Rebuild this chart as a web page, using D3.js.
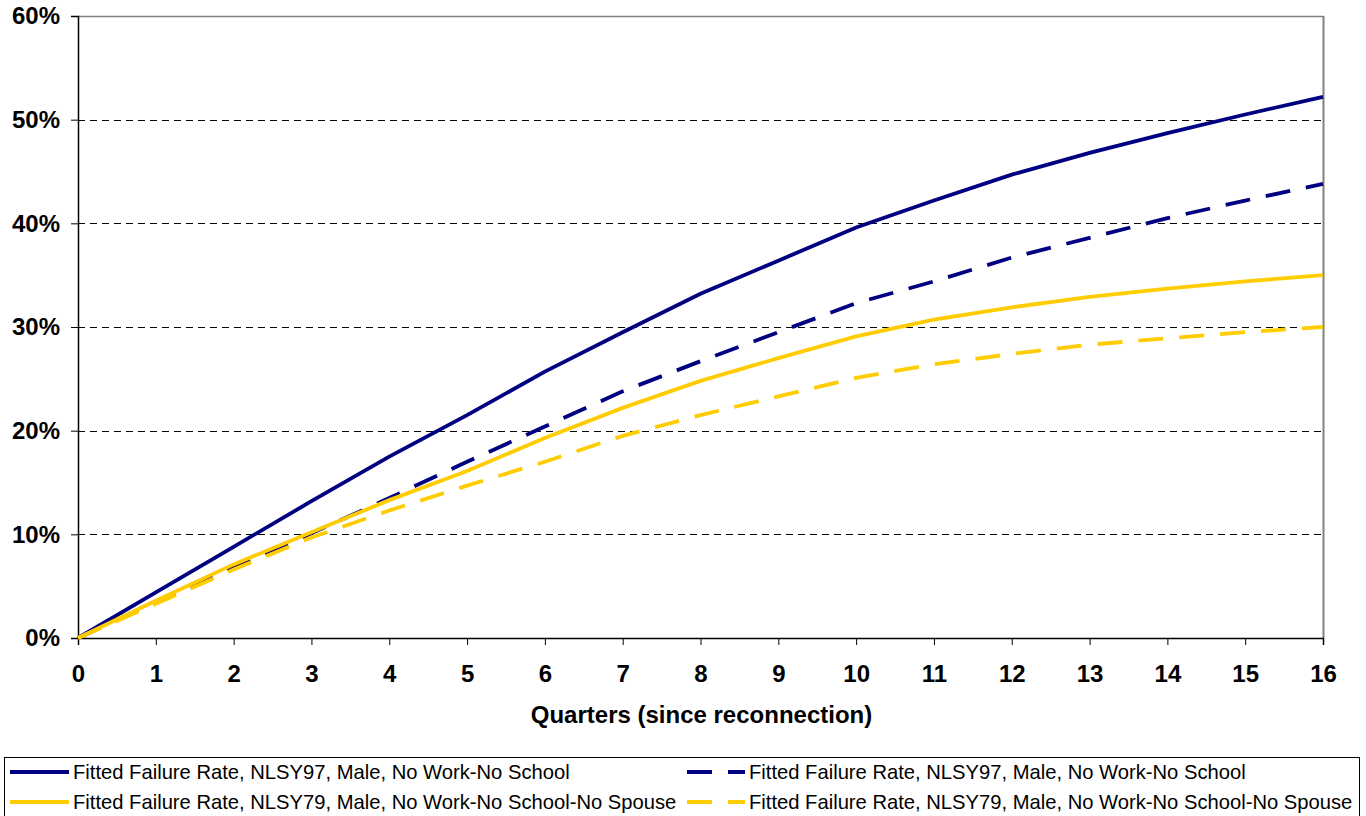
<!DOCTYPE html>
<html>
<head>
<meta charset="utf-8">
<script src="https://cdn.jsdelivr.net/npm/d3@7"></script>
<style>
  html, body { margin: 0; padding: 0; background: #fff; }
  svg { display: block; }
  text { font-family: "Liberation Sans", Arial, sans-serif; fill: #000; }
</style>
</head>
<body>
<svg id="chart" width="1366" height="816"></svg>
<script>
// ---- Data ----
const quarters = [0,1,2,3,4,5,6,7,8,9,10,11,12,13,14,15,16];
const yTicks = [0, 0.1, 0.2, 0.3, 0.4, 0.5, 0.6];
const seriesNames = [
  "Fitted Failure Rate, NLSY97, Male, No Work-No School",
  "Fitted Failure Rate, NLSY97, Male, No Work-No School",
  "Fitted Failure Rate, NLSY79, Male, No Work-No School-No Spouse",
  "Fitted Failure Rate, NLSY79, Male, No Work-No School-No Spouse"
];
const nlsy97Solid  = [0, 4.4, 8.8, 13.2, 17.5, 21.5, 25.7, 29.5, 33.2, 36.4, 39.6, 42.2, 44.7, 46.8, 48.7, 50.5, 52.2];
const nlsy97Dashed = [0, 3.5, 6.8, 10.1, 13.5, 17.0, 20.4, 23.8, 26.7, 29.5, 32.3, 34.4, 36.7, 38.6, 40.5, 42.2, 43.8];
const nlsy79Solid  = [0, 3.6, 7.1, 10.2, 13.3, 16.1, 19.3, 22.2, 24.8, 27.0, 29.1, 30.7, 31.9, 32.9, 33.7, 34.4, 35.0];
const nlsy79Dashed = [0, 3.3, 6.6, 9.7, 12.3, 14.7, 17.0, 19.5, 21.5, 23.3, 25.1, 26.4, 27.4, 28.3, 28.9, 29.5, 30.0];

const NAVY = "#000080", GOLD = "#FFCC00";
const series = [
  { name: seriesNames[0], values: nlsy97Solid,  color: NAVY, dash: null },
  { name: seriesNames[1], values: nlsy97Dashed, color: NAVY, dash: "25,16" },
  { name: seriesNames[2], values: nlsy79Solid,  color: GOLD, dash: null },
  { name: seriesNames[3], values: nlsy79Dashed, color: GOLD, dash: "25,16" }
];

// ---- Layout ----
const svg = d3.select("#chart");
const L = 78, R = 1323, T = 16, B = 638;
const x = d3.scaleLinear().domain([0, 16]).range([L, R]);
const y = d3.scaleLinear().domain([0, 0.6]).range([B, T]);

// gridlines
svg.append("g").selectAll("line")
  .data(yTicks.filter(d => d > 0 && d < 0.6))
  .join("line")
  .attr("x1", L).attr("x2", R)
  .attr("y1", d => Math.round(y(d)) + 0.5).attr("y2", d => Math.round(y(d)) + 0.5)
  .attr("stroke", "#000").attr("stroke-width", 1).attr("stroke-dasharray", "7,5");

// plot border (top, right) gray
svg.append("line").attr("x1", L).attr("x2", R + 1).attr("y1", T + 0.5).attr("y2", T + 0.5)
  .attr("stroke", "#808080").attr("stroke-width", 1.5);
svg.append("line").attr("x1", R + 0.5).attr("x2", R + 0.5).attr("y1", T).attr("y2", B)
  .attr("stroke", "#808080").attr("stroke-width", 2);

// axes
const yAxis = d3.axisLeft(y).tickValues(yTicks).tickFormat(d3.format(".0%"))
  .tickSize(7).tickPadding(11);
const gy = svg.append("g").attr("transform", `translate(${L},0)`).call(yAxis);
gy.select(".domain").attr("stroke", "#000").attr("stroke-width", 1.5);
gy.selectAll(".tick line").attr("stroke", "#000").attr("stroke-width", 1);
gy.selectAll(".tick text").attr("font-size", 24).attr("font-weight", "bold")
  .attr("font-family", "'Liberation Sans', Arial, sans-serif").attr("fill", "#000");

const xAxis = d3.axisBottom(x).tickValues(quarters).tickFormat(d3.format("d"))
  .tickSize(7).tickPadding(20);
const gx = svg.append("g").attr("transform", `translate(0,${B})`).call(xAxis);
gx.select(".domain").attr("stroke", "#000").attr("stroke-width", 1.5);
gx.selectAll(".tick line").attr("stroke", "#000").attr("stroke-width", 1);
gx.selectAll(".tick text").attr("font-size", 24).attr("font-weight", "bold")
  .attr("font-family", "'Liberation Sans', Arial, sans-serif").attr("fill", "#000");

// axis title
svg.append("text").attr("x", (L + R) / 2 + 1).attr("y", 723)
  .attr("text-anchor", "middle").attr("font-size", 24).attr("font-weight", "bold")
  .text("Quarters (since reconnection)");

// lines
const line = d3.line().x((d, i) => x(quarters[i])).y(d => y(d / 100)).curve(d3.curveLinear);
svg.append("g").selectAll("path")
  .data(series)
  .join("path")
  .attr("d", d => line(d.values))
  .attr("fill", "none")
  .attr("stroke", d => d.color)
  .attr("stroke-width", 3.8)
  .attr("stroke-dasharray", d => d.dash);

// legend
svg.append("rect").attr("x", 4.5).attr("y", 757.5).attr("width", 1355).attr("height", 80)
  .attr("fill", "#fff").attr("stroke", "#000").attr("stroke-width", 1);
const legPos = [
  { sx: 10, tx: 73, cy: 772 },
  { sx: 687, tx: 749, cy: 772 },
  { sx: 10, tx: 73, cy: 802 },
  { sx: 687, tx: 749, cy: 802 }
];
const leg = svg.append("g").selectAll("g").data(series).join("g");
leg.append("line")
  .attr("x1", (d, i) => legPos[i].sx).attr("x2", (d, i) => legPos[i].tx - 4)
  .attr("y1", (d, i) => legPos[i].cy).attr("y2", (d, i) => legPos[i].cy)
  .attr("stroke", d => d.color).attr("stroke-width", 3.8)
  .attr("stroke-dasharray", d => d.dash);
leg.append("text")
  .attr("x", (d, i) => legPos[i].tx).attr("y", (d, i) => legPos[i].cy)
  .attr("dy", "0.35em").attr("font-size", 20.2)
  .text(d => d.name);
</script>
</body>
</html>
